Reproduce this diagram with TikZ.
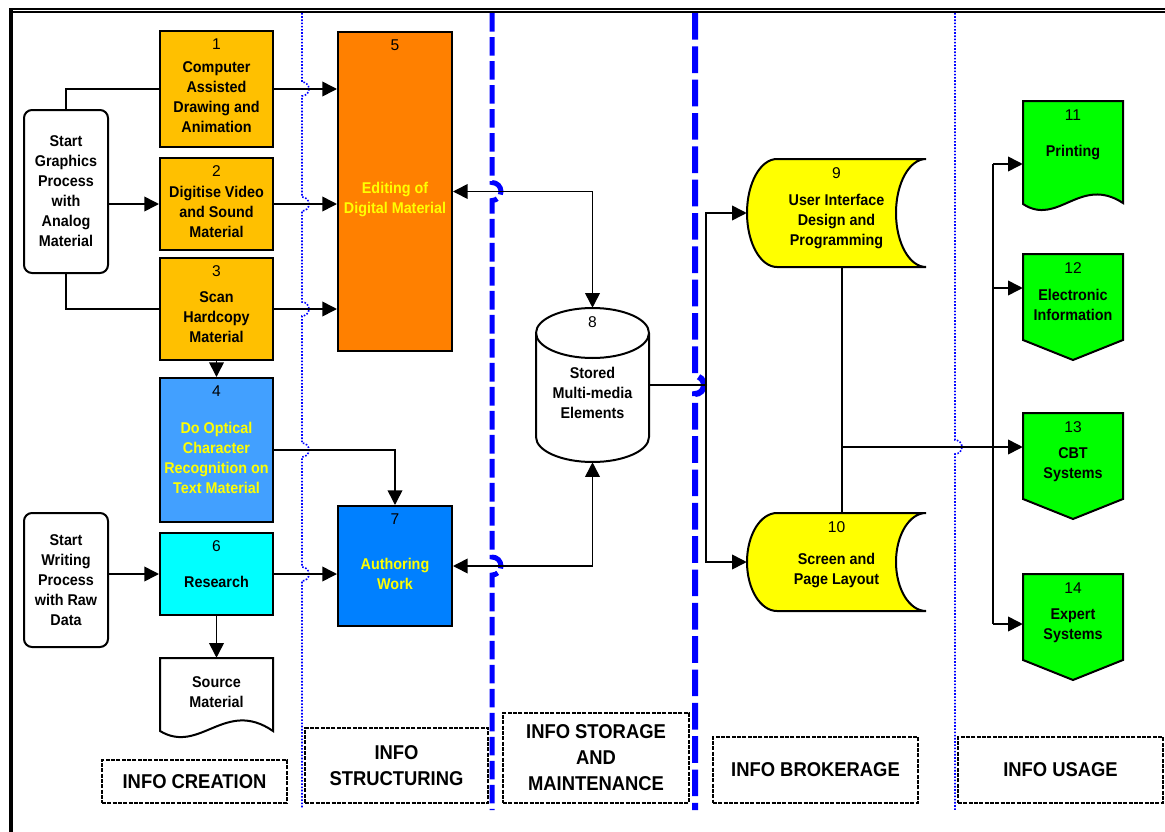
\documentclass[tikz,border=0pt]{standalone}
\usepackage{fontspec}
\setmainfont{Liberation Sans}
\newfontfamily\heavy{Liberation Sans}[FakeStretch=0.92]
\usetikzlibrary{arrows.meta}

\definecolor{amber}{RGB}{255,192,0}
\definecolor{editorange}{RGB}{255,128,0}
\definecolor{ocrblue}{RGB}{66,160,255}
\definecolor{authblue}{RGB}{0,128,255}
\definecolor{aqua}{RGB}{0,255,255}
\definecolor{usegreen}{RGB}{0,255,0}
\definecolor{uiyellow}{RGB}{255,255,0}
\definecolor{laneblue}{RGB}{0,0,255}

\newcommand\txt{\heavy\bfseries\fontsize{11.7pt}{15pt}\selectfont}
\newcommand\numf{\fontsize{11.7pt}{15pt}\selectfont}
\newcommand\lblf{\heavy\bfseries\fontsize{15pt}{19.5pt}\selectfont}
\newcommand\lift{\rule{0pt}{20.5pt}}

\begin{document}
\begin{tikzpicture}[
      x=0.75pt, y=-0.75pt,
      every node/.style={font=\txt, align=center, inner sep=1pt},
      box/.style={draw, line width=1.5pt, minimum width=84.75pt},
      start/.style={draw, line width=1.5pt, rounded corners=6pt, minimum width=63pt},
      num/.style={label={[anchor=north, inner sep=0pt, yshift=-6.3pt, text=black, font=\numf]north:#1}},
      lane/.style={draw, line width=2pt, dash pattern=on 3pt off 1pt, font=\lblf},
      outline/.style={draw, line width=1.5pt},
      conn/.style={line width=1.2pt},
      arr/.style={conn, -{Triangle[length=11pt, width=11pt]}},
      arr2/.style={conn, {Triangle[length=11pt, width=11pt]}-{Triangle[length=11pt, width=11pt]}},
      dotline/.style={laneblue, line width=1.2pt, dash pattern=on 1.2pt off 1.2pt},
      dashline/.style={laneblue, line width=3.75pt, dash pattern=on 14pt off 4pt}]
    \useasboundingbox (0,0) rectangle (1165,832);
    \fill[white] (0,0) rectangle (1165,832);

    % frame
    \draw[line width=1.7pt] (9,9.2) -- (1165,9.2);
    \draw[line width=1pt] (12,12) -- (1165,12);
    \draw[line width=2.5pt] (11,8) -- (11,832);

    % lane dividers
    \draw[dotline] (302,13) foreach \y in {89,204,309,450,574} {-- (302,\y-7) arc[start angle=-90, end angle=90, radius=7]} -- (302,808);
    \draw[dashline] (492,13) foreach \y in {191.5,566} {-- (492,\y-9) arc[start angle=-90, end angle=90, radius=9]} -- (492,810);
    \draw[dashline, line width=4.5pt, dash pattern=on 20pt off 5pt] (695,13) -- (695,376) arc[start angle=-90, end angle=90, radius=9] -- (695,810);
    \draw[dotline] (955,13) -- (955,440) arc[start angle=-90, end angle=90, radius=7] -- (955,810);

    % shapes
    \filldraw[outline, fill=white] (160,731) -- (160,658) -- (273,658) -- (273,731)
      .. controls (225,698) and (200,755) .. (160,731) -- cycle;
    \filldraw[outline, fill=white] (536,333) -- (536,437) arc[start angle=180, end angle=0, x radius=56.5, y radius=25]
      -- (649,333) arc[start angle=0, end angle=-180, x radius=56.5, y radius=25] -- cycle;
    \draw[outline] (536,333) arc[start angle=180, end angle=0, x radius=56.5, y radius=25];
    \foreach \t/\b in {159/267, 513/611} {
      \pgfmathsetmacro\m{(\t+\b)/2}
      \pgfmathsetmacro\h{0.552*(\b-\t)/2}
      \filldraw[outline, fill=uiyellow] (777,\t) -- (926,\t) .. controls (909.4,\t) and (896,\m-\h) .. (896,\m)
        .. controls (896,\m+\h) and (909.4,\b) .. (926,\b) -- (777,\b)
        .. controls (760.4,\b) and (747,\m+\h) .. (747,\m) .. controls (747,\m-\h) and (760.4,\t) .. (777,\t) -- cycle;
    }
    \filldraw[outline, fill=usegreen] (1023,204) -- (1023,101) -- (1123,101) -- (1123,203)
      .. controls (1080,175) and (1058,227) .. (1023,204) -- cycle;
    \foreach \t in {254,413,574}
      \filldraw[outline, fill=usegreen] (1023,\t) -- (1123,\t) -- (1123,\t+86) -- (1073,\t+106) -- (1023,\t+86) -- cycle;

    % info creation
    \node[start, minimum height=122.25pt] (sg) at (66,191.5) {Start\\Graphics\\Process\\with\\Analog\\Material};
    \node[start, minimum height=100.5pt] (sw) at (66,580) {Start\\Writing\\Process\\with Raw\\Data};
    \node[box, fill=amber, minimum height=87pt, num=1] (n1) at (216.5,89) {\lift Computer\\Assisted\\Drawing and\\Animation};
    \node[box, fill=amber, minimum height=69pt, num=2] (n2) at (216.5,204) {\lift Digitise Video\\and Sound\\Material};
    \node[box, fill=amber, minimum height=76.5pt, num=3] (n3) at (216.5,309) {\lift Scan\\Hardcopy\\Material};
    \node[box, fill=ocrblue, text=uiyellow, minimum height=108pt, num=4] (n4) at (216.5,450) {\lift Do Optical\\Character\\Recognition on\\Text Material};
    \node[box, fill=aqua, minimum height=61.5pt, num=6] (n6) at (216.5,574) {\lift Research};
    \node[minimum width=84.75pt, minimum height=51pt] (src) at (216.5,692) {Source\\Material};

    % info structuring
    \node[box, fill=editorange, text=uiyellow, minimum width=85.5pt, minimum height=239.25pt, num=5] (n5) at (395,191.5) {\lift Editing of\\Digital Material};
    \node[box, fill=authblue, text=uiyellow, minimum width=85.5pt, minimum height=90pt, num=7] (n7) at (395,566) {\lift Authoring\\Work};

    % storage, brokerage, usage
    \node[minimum width=84.75pt, minimum height=115.5pt, num=8] (n8) at (592.5,385) {\lift Stored\\Multi-media\\Elements};
    \node[minimum width=134.25pt, minimum height=81pt, num=9] (n9) at (836.5,213) {\lift User Interface\\Design and\\Programming};
    \node[minimum width=134.25pt, minimum height=73.5pt, num=10] (n10) at (836.5,562) {\lift Screen and\\Page Layout};
    \node[minimum width=75pt, minimum height=76.5pt, num=11] (n11) at (1073,152) {Printing};
    \node[minimum width=75pt, minimum height=64.5pt, num=12] (n12) at (1073,297) {\lift Electronic\\Information};
    \node[minimum width=75pt, minimum height=64.5pt, num=13] (n13) at (1073,456) {\lift CBT\\Systems};
    \node[minimum width=75pt, minimum height=64.5pt, num=14] (n14) at (1073,617) {\lift Expert\\Systems};

    % lane labels
    \node[lane, minimum width=138.75pt, minimum height=32.25pt] (lc) at (194.5,781.5) {INFO CREATION};
    \node[lane, minimum width=137.25pt, minimum height=56.25pt] (ls) at (396.5,765.5) {INFO\\STRUCTURING};
    \node[lane, minimum width=139.5pt, minimum height=67.5pt] (lst) at (596,758) {INFO STORAGE\\AND\\MAINTENANCE};
    \node[lane, minimum width=153.75pt, minimum height=49.5pt] (lb) at (815.5,770) {INFO BROKERAGE};
    \node[lane, minimum width=153.75pt, minimum height=49.5pt] (lu) at (1060.5,770) {INFO USAGE};

    % connectors
    \draw[conn] (sg.north) |- (n1.west);
    \draw[arr] (sg.east |- n2) -- (n2.west);
    \draw[conn] (sg.south) |- (n3.west);
    \foreach \n in {1,2,3}
      \draw[arr] (n\n.east) -- (n\n.east -| n5.west);
    \draw[arr] (n3) -- (n4);
    \draw[arr] (n4.east) -| (n7.north);
    \draw[arr] (sw.east |- n6) -- (n6.west);
    \draw[arr] (n6.east) -- (n6.east -| n7.west);
    \draw[arr] (n6) -- (src);
    \draw[arr2] (n5.east) -| (n8.north);
    \draw[arr2] (n7.east) -| (n8.south);

    \coordinate (br) at (706,385);
    \draw[conn] (n8.east) -- (br);
    \draw[arr] (br) |- (n9.west);
    \draw[arr] (br) |- (n10.west);

    \coordinate (jn) at (842,447);
    \draw[conn] (n9.south -| jn) -- (n10.north -| jn);
    \draw[arr] (jn) -- (jn -| n13.west);

    \coordinate (t11) at (993,164);
    \coordinate (t12) at (993,288);
    \coordinate (t14) at (993,624);
    \draw[conn] (t11) -- (t14);
    \foreach \n in {11,12,14}
      \draw[arr] (t\n) -- (t\n -| n\n.west);

  \end{tikzpicture}
\end{document}
